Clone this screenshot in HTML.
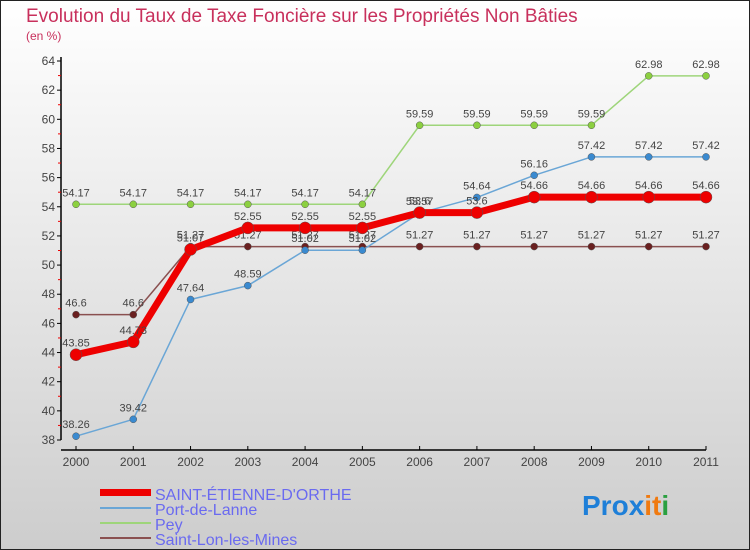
<!DOCTYPE html>
<html><head><meta charset="utf-8"><style>
body{margin:0;width:750px;height:550px;overflow:hidden}
svg{display:block;font-family:"Liberation Sans","DejaVu Sans",sans-serif}
</style></head><body>
<svg id="c" width="750" height="550" xmlns="http://www.w3.org/2000/svg">
<defs><linearGradient id="bg" x1="0" y1="0" x2="0" y2="1"><stop offset="0" stop-color="#ffffff"/><stop offset="1" stop-color="#cdcdcd"/></linearGradient></defs>
<rect x="0.5" y="0.5" width="749" height="549" fill="url(#bg)" stroke="#222"/>
<text x="26" y="22" font-size="19" fill="#c8305c">Evolution du Taux de Taxe Foncière sur les Propriétés Non Bâties</text>
<text x="26" y="40" font-size="12" fill="#c8305c">(en %)</text>
<g id="axes"></g><g id="series"></g>
<g>
<rect x="100" y="489" width="51" height="7" fill="#ee0000"/>
<text x="155" y="500" font-size="16" fill="#6a6af0">SAINT-ÉTIENNE-D'ORTHE</text>
<rect x="100" y="507" width="51" height="2" fill="#6aa6d6"/>
<text x="155" y="515" font-size="16" fill="#6a6af0">Port-de-Lanne</text>
<rect x="100" y="522" width="51" height="2" fill="#9ed57a"/>
<text x="155" y="530" font-size="16" fill="#6a6af0">Pey</text>
<rect x="100" y="537" width="51" height="2" fill="#8a5050"/>
<text x="155" y="545" font-size="16" fill="#6a6af0">Saint-Lon-les-Mines</text>
</g>
<g font-size="28" font-weight="bold">
<text x="582" y="515"><tspan fill="#1e7fd8">Pro</tspan><tspan fill="#1e7fd8">x</tspan><tspan fill="#f07a10">i</tspan><tspan fill="#f07a10">t</tspan><tspan fill="#2aa040">i</tspan></text>
</g>
</svg>
<script>
const years=[2000,2001,2002,2003,2004,2005,2006,2007,2008,2009,2010,2011];
const saintEtienne=[43.85,44.73,51.07,52.55,52.55,52.55,53.6,53.6,54.66,54.66,54.66,54.66];
const portDeLanne=[38.26,39.42,47.64,48.59,51.02,51.02,53.57,54.64,56.16,57.42,57.42,57.42];
const pey=[54.17,54.17,54.17,54.17,54.17,54.17,59.59,59.59,59.59,59.59,62.98,62.98];
const saintLon=[46.6,46.6,51.27,51.27,51.27,51.27,51.27,51.27,51.27,51.27,51.27,51.27];
const yTicks=[38,40,42,44,46,48,50,52,54,56,58,60,62,64];
const NS="http://www.w3.org/2000/svg";
const x=i=>76+i*57.2727;
const y=v=>440-(v-38)*(379/26);
function mk(t,a,p){const e=document.createElementNS(NS,t);for(const k in a)e.setAttribute(k,a[k]);p.appendChild(e);return e;}
const ax=document.getElementById('axes');
let l=mk('line',{x1:61,y1:y(64)-4,x2:61,y2:440,stroke:'#000','stroke-width':1.5},ax);


l=mk('line',{x1:61,y1:450,x2:x(11),y2:450,stroke:'#000','stroke-width':1.5},ax);


yTicks.forEach(v=>{
 mk('line',{x1:57,y1:y(v),x2:61,y2:y(v),stroke:'#000'},ax);
 if(v<64)mk('line',{x1:58,y1:y(v+1),x2:61,y2:y(v+1),stroke:'#e00'},ax);
 const t=mk('text',{x:55,y:y(v)+4,'text-anchor':'end','font-size':12,fill:'#444'},ax);
 t.textContent=v;
 
 
});
years.forEach((yr,i)=>{
 mk('line',{x1:x(i),y1:446,x2:x(i),y2:450,stroke:'#000'},ax);
 const t=mk('text',{x:x(i),y:466,'text-anchor':'middle','font-size':12,fill:'#444'},ax);
 t.textContent=yr;
 
 
});
const sg=document.getElementById('series');
function draw(name,vals,color,w,r,fill){
 const g=mk('g',{},sg);
 
 
 mk('polyline',{points:vals.map((v,i)=>x(i)+','+y(v)).join(' '),fill:'none',stroke:color,'stroke-width':w,'stroke-linejoin':'round'},g);
 vals.forEach((v,i)=>{
  const c=mk('circle',{cx:x(i),cy:y(v),r:r,fill:fill,stroke:'#555','stroke-width':0.5},g);
  
  
  const t=mk('text',{x:x(i),y:y(v)-8,'text-anchor':'middle','font-size':11,fill:'#444'},g);
  t.textContent=v;
  
  
 });
}
draw('series-pey',pey,'#9ed57a',1.5,3.5,'#8cd040');
draw('series-saint-lon',saintLon,'#8a5050',1.5,3.5,'#6a2020');
draw('series-port-de-lanne',portDeLanne,'#6aa6d6',1.5,3.5,'#3a8ad0');
draw('series-saint-etienne',saintEtienne,'#ee0000',7,6,'#ee0000');
</script>
</body></html>
